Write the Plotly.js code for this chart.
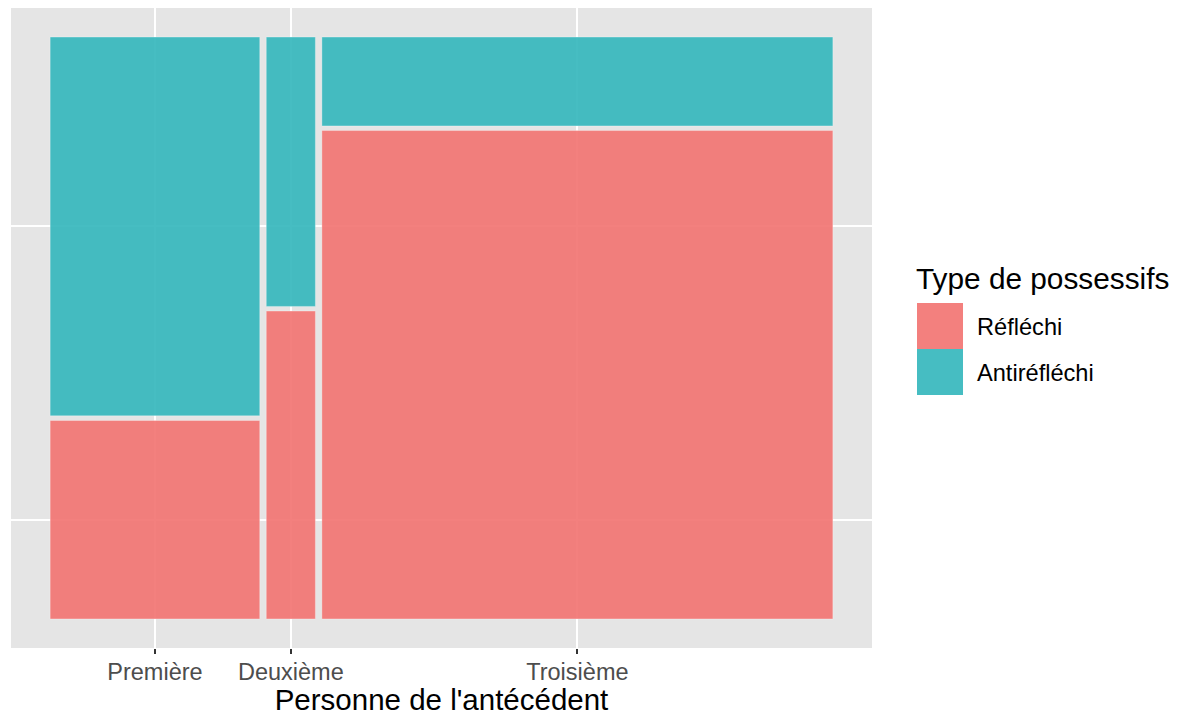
<!DOCTYPE html>
<html>
<head>
<meta charset="utf-8">
<script src="https://cdn.plot.ly/plotly-3.0.1.min.js"></script>
<style>html,body{margin:0;padding:0;background:#fff;}#chart{width:1186px;height:716px;}</style>
</head>
<body>
<div id="chart"></div>
<script>
// Data (counts read from the mosaic)
var personnes = ["Première", "Deuxième", "Troisième"];
var types = ["Réfléchi", "Antiréfléchi"];
var reflechi = [22, 8, 132];
var antireflechi = [42, 7, 24];
var typeColors = ["rgba(242,118,116,0.93)", "rgba(56,184,189,0.93)"];

// Mosaic geometry (spacing between tiles)
var gx = 0.0083, gy = 0.008;
var totals = reflechi.map(function (r, i) { return r + antireflechi[i]; });
var N = totals.reduce(function (a, b) { return a + b; }, 0);
var avail = 1 - gx * (personnes.length - 1);
var centers = [], widths = [], rHeights = [], aBases = [], aHeights = [];
var x0 = 0;
for (var i = 0; i < personnes.length; i++) {
  var w = totals[i] / N * avail;
  widths.push(w);
  centers.push(x0 + w / 2);
  x0 += w + gx;
  var p = reflechi[i] / totals[i];
  var rh = p * (1 - gy);
  rHeights.push(rh);
  aBases.push(rh + gy);
  aHeights.push((1 - p) * (1 - gy));
}
// y breaks: midpoints of the first column's tiles
var yBreaks = [rHeights[0] / 2, aBases[0] + aHeights[0] / 2];

var lineStyle = {color: "rgba(255,255,255,0.3)", width: 1};
var traces = [
  {type: "bar", name: types[0], x: centers, width: widths, base: personnes.map(function(){return 0;}), y: rHeights,
   marker: {color: typeColors[0], line: lineStyle}, showlegend: false, hoverinfo: "skip"},
  {type: "bar", name: types[1], x: centers, width: widths, base: aBases, y: aHeights,
   marker: {color: typeColors[1], line: lineStyle}, showlegend: false, hoverinfo: "skip"}
];

var font = "Liberation Sans, Arial, Helvetica, sans-serif";
var L = 11, T = 8, W = 861, H = 640;
function px(x) { return (x - L) / W; }
function py(y) { return (T + H - y) / H; }

var layout = {
  width: 1186, height: 716,
  margin: {l: L, r: 1186 - L - W, t: T, b: 716 - T - H, pad: 0},
  paper_bgcolor: "#ffffff",
  plot_bgcolor: "#E5E5E5",
  barmode: "overlay",
  font: {family: font, color: "#4D4D4D"},
  xaxis: {
    range: [-0.05, 1.05], tickmode: "array", tickvals: centers, ticktext: personnes,
    showgrid: true, gridcolor: "#ffffff", gridwidth: 2, zeroline: false, showline: false,
    ticks: "outside", ticklen: 5, tickwidth: 2, tickcolor: "#333333",
    ticklabelstandoff: -2,
    tickfont: {size: 23.5, color: "#4D4D4D", family: font},
    title: {text: "Personne de l'antécédent", font: {size: 29.5, color: "#000000", family: font}, standoff: 6},
    fixedrange: true
  },
  yaxis: {
    range: [-0.05, 1.05], tickmode: "array", tickvals: yBreaks, showticklabels: false, ticks: "",
    showgrid: true, gridcolor: "#ffffff", gridwidth: 2, zeroline: false, showline: false, fixedrange: true
  },
  shapes: [
    {type: "rect", xref: "paper", yref: "paper", x0: px(917), x1: px(963), y0: py(349), y1: py(303),
     fillcolor: typeColors[0], line: {width: 0}},
    {type: "rect", xref: "paper", yref: "paper", x0: px(917), x1: px(963), y0: py(395), y1: py(349),
     fillcolor: typeColors[1], line: {width: 0}}
  ],
  annotations: [
    {text: "Type de possessifs", xref: "paper", yref: "paper", x: px(914), y: py(278), xanchor: "left", yanchor: "middle",
     showarrow: false, font: {size: 29.8, color: "#000000", family: font}},
    {text: types[0], xref: "paper", yref: "paper", x: px(975), y: py(327), xanchor: "left", yanchor: "middle",
     showarrow: false, font: {size: 23.6, color: "#000000", family: font}},
    {text: types[1], xref: "paper", yref: "paper", x: px(975), y: py(373), xanchor: "left", yanchor: "middle",
     showarrow: false, font: {size: 23.6, color: "#000000", family: font}}
  ]
};

Plotly.newPlot("chart", traces, layout, {displayModeBar: false, staticPlot: true});
</script>
</body>
</html>
